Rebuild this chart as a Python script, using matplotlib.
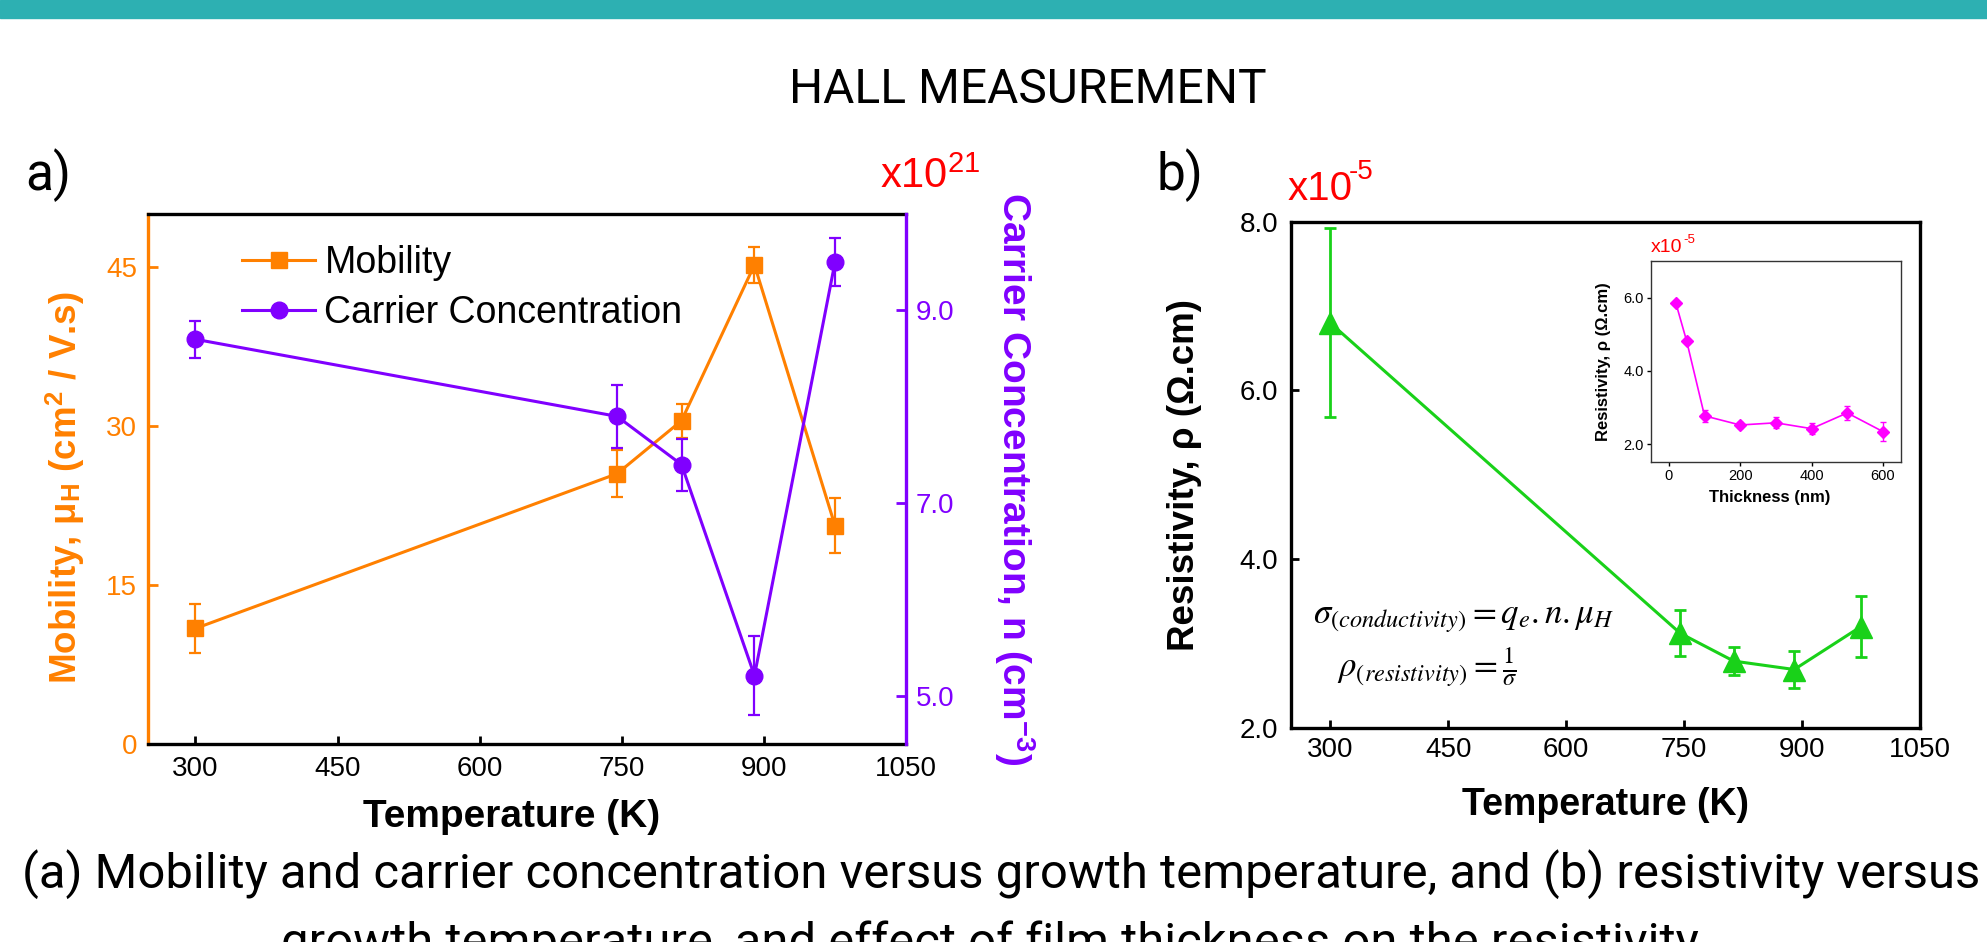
import matplotlib.pyplot as plt
from matplotlib.patches import Rectangle
from matplotlib.lines import Line2D

plt.rcParams['font.family'] = ['Liberation Sans', 'DejaVu Sans']
plt.rcParams['mathtext.fontset'] = 'stix'

ORANGE = '#FF8000'
PURPLE = '#8000FF'
GREEN = '#19D119'
MAGENTA = '#FF00FF'
RED = '#FF0000'
TEAL = '#2DB0B2'

W, H = 1987, 942

# growth temperature series (K)
temp = [300, 745, 813, 890, 975]
mobility = [10.9, 25.5, 30.5, 45.2, 20.6]          # cm2/V.s
mobility_err = [2.3, 2.2, 1.6, 1.7, 2.6]
carrier = [8.70, 7.90, 7.40, 5.21, 9.50]           # x1e21 cm-3
carrier_err = [0.19, 0.33, 0.27, 0.41, 0.25]
resistivity = [6.80, 3.12, 2.79, 2.69, 3.20]       # x1e-5 ohm.cm
resistivity_err = [1.12, 0.27, 0.17, 0.22, 0.36]

# film thickness series (inset)
thickness = [20, 50, 100, 200, 300, 400, 500, 600]
res_thick = [5.84, 4.81, 2.77, 2.52, 2.58, 2.42, 2.85, 2.34]
res_thick_err = [0.05, 0.05, 0.16, 0.08, 0.15, 0.15, 0.20, 0.26]

temp_ticks = [300, 450, 600, 750, 900, 1050]
mob_ticks = [0, 15, 30, 45]
carrier_ticks = [5.0, 7.0, 9.0]
res_ticks = [2.0, 4.0, 6.0, 8.0]
thick_ticks = [0, 200, 400, 600]
res_thick_ticks = [2.0, 4.0, 6.0]


def px_text(x, y, s, **kw):
    # place text by pixel position measured from the top-left corner
    return fig.text(x / W, 1 - y / H, s, **kw)


fig = plt.figure(figsize=(19.87, 9.42), dpi=100)

# header band and headings
fig.patches.append(Rectangle((0, 1 - 18 / H), 1, 18 / H, transform=fig.transFigure,
                             color=TEAL, zorder=0))
px_text(1028, 103, 'HALL MEASUREMENT', family='Roboto', fontsize=34.5,
        ha='center', va='baseline')
px_text(25, 190, 'a)', family='Roboto', fontsize=37, va='baseline')
px_text(1157, 190, 'b)', family='Roboto', fontsize=37, va='baseline')

caption1 = ('(a) Mobility and carrier concentration versus growth temperature, '
            'and (b) resistivity versus')
caption2 = 'growth temperature, and effect of film thickness on the resistivity'
px_text(1001, 888, caption1, family='Roboto', fontsize=35.3, ha='center', va='baseline')
px_text(990, 957, caption2, family='Roboto', fontsize=35.3, ha='center', va='baseline')

# ---- (a) mobility + carrier concentration ----
ax1 = fig.add_axes([0.0745, 0.2102, 0.3815, 0.5626])
ax1r = ax1.twinx()

ax1.errorbar(temp, mobility, yerr=mobility_err, fmt='none', ecolor=ORANGE,
             elinewidth=1.6, capsize=4.5, capthick=1.6)
ax1.plot(temp, mobility, color=ORANGE, lw=2.2, marker='s', ms=11.5)
ax1r.errorbar(temp, carrier, yerr=carrier_err, fmt='none', ecolor=PURPLE,
              elinewidth=1.6, capsize=4.5, capthick=1.6)
ax1r.plot(temp, carrier, color=PURPLE, lw=2.2, marker='o', ms=12)

ax1.set_xlim(250, 1050)
ax1.set_ylim(0, 50)
ax1r.set_ylim(4.5, 10.0)
ax1.set_xticks(temp_ticks)
ax1.set_yticks(mob_ticks)
ax1r.set_yticks(carrier_ticks)
ax1r.set_yticklabels(['%.1f' % v for v in carrier_ticks])

ax1.tick_params(axis='x', direction='in', length=6, width=2, labelsize=20, pad=9)
ax1.tick_params(axis='y', direction='in', length=7, width=2, colors=ORANGE,
                labelsize=20, pad=8)
ax1r.tick_params(axis='y', direction='in', length=7, width=2, colors=PURPLE,
                 labelsize=20, pad=7)

for s in ['top', 'bottom']:
    ax1.spines[s].set_linewidth(2.4)
ax1.spines['left'].set_color(ORANGE)
ax1.spines['left'].set_linewidth(2.4)
ax1.spines['right'].set_visible(False)
for s in ['left', 'top', 'bottom']:
    ax1r.spines[s].set_visible(False)
ax1r.spines['right'].set_color(PURPLE)
ax1r.spines['right'].set_linewidth(2.4)

ax1.set_xlabel('Temperature (K)', fontsize=28, fontweight='bold')
ax1.xaxis.set_label_coords(0.480, -0.137)
ax1.xaxis.label.set_va('center')
ax1.set_ylabel(r'Mobility, μ$_\mathregular{H}$ (cm$^\mathregular{2}$ / V.s)',
               fontsize=26.5, fontweight='bold', color=ORANGE)
ax1.yaxis.set_label_coords(-0.110, 0.483)
ax1.yaxis.label.set_va('center')
ax1r.set_ylabel(r'Carrier Concentration, n (cm$^\mathregular{-3}$)', fontsize=28,
                fontweight='bold', color=PURPLE, rotation=-90)
ax1r.yaxis.set_label_coords(1.1425, 0.5)
ax1r.yaxis.label.set_va('center')

handles = [Line2D([], [], color=ORANGE, lw=2.2, marker='s', ms=11.5),
           Line2D([], [], color=PURPLE, lw=2.2, marker='o', ms=12)]
fig.legend(handles, ['Mobility', 'Carrier Concentration'], loc='center left',
           bbox_to_anchor=(242 / W, 1 - 288 / H), frameon=False,
           fontsize=27, handlelength=1.95, handletextpad=0.25, labelspacing=0.36,
           borderpad=0, borderaxespad=0)

px_text(880, 188, r'x10$^{\mathregular{21}}$', color=RED, fontsize=30, va='baseline')

# ---- (b) resistivity vs temperature ----
ax2 = fig.add_axes([0.6497, 0.2275, 0.3166, 0.5371])
ax2.errorbar(temp, resistivity, yerr=resistivity_err, fmt='none', ecolor=GREEN,
             elinewidth=2, capsize=4.5, capthick=2)
ax2.plot(temp, resistivity, color=GREEN, lw=2.2, marker='^', ms=16)

ax2.set_xlim(250, 1050)
ax2.set_ylim(2.0, 8.0)
ax2.set_xticks(temp_ticks)
ax2.set_yticks(res_ticks)
ax2.set_yticklabels(['%.1f' % v for v in res_ticks])
ax2.tick_params(axis='x', direction='in', length=6, width=2, labelsize=20, pad=7)
ax2.tick_params(axis='y', direction='in', length=6, width=2, labelsize=20, pad=9)
for s in ax2.spines.values():
    s.set_linewidth(2.4)

ax2.set_xlabel('Temperature (K)', fontsize=27, fontweight='bold')
ax2.xaxis.set_label_coords(0.5, -0.153)
ax2.xaxis.label.set_va('center')
ax2.set_ylabel('Resistivity, ρ (Ω.cm)', fontsize=26.5, fontweight='bold')
ax2.yaxis.set_label_coords(-0.1685, 0.5)
ax2.yaxis.label.set_va('center')

ax2.text(0.035, 0.206, r'$\sigma_{(conductivity)} = q_e.n.\mu_H$', fontsize=25,
         transform=ax2.transAxes, va='baseline')
ax2.text(0.073, 0.100, r'$\rho_{(resistivity)} = \frac{1}{\sigma}$', fontsize=25,
         transform=ax2.transAxes, va='baseline')

px_text(1288, 200, 'x10', color=RED, fontsize=29, va='baseline')
px_text(1349, 179, '-5', color=RED, fontsize=20, va='baseline')

# inset: resistivity vs film thickness
axin = fig.add_axes([0.8309, 0.5092, 0.1257, 0.2137])
axin.errorbar(thickness, res_thick, yerr=res_thick_err, fmt='none', ecolor=MAGENTA,
              elinewidth=1, capsize=2, capthick=1)
axin.plot(thickness, res_thick, color=MAGENTA, lw=1.2, marker='D', ms=6)
axin.set_xlim(-50, 650)
axin.set_ylim(1.5, 7.0)
axin.set_xticks(thick_ticks)
axin.set_yticks(res_thick_ticks)
axin.set_yticklabels(['%.1f' % v for v in res_thick_ticks])
axin.tick_params(direction='out', length=3, width=1, labelsize=10.5, pad=2)
for s in axin.spines.values():
    s.set_color('#333333')
    s.set_linewidth(1.0)
axin.set_xlabel('Thickness (nm)', fontsize=12, fontweight='bold')
axin.xaxis.set_label_coords(0.477, -0.177)
axin.xaxis.label.set_va('center')
axin.set_ylabel('Resistivity, ρ (Ω.cm)', fontsize=12, fontweight='bold')
axin.yaxis.set_label_coords(-0.192, 0.5)
axin.yaxis.label.set_va('center')
px_text(1651, 251.7, 'x10', color=RED, fontsize=14, va='baseline')
px_text(1683, 243, '-5', color=RED, fontsize=9.5, va='baseline')

fig.savefig('out.png', dpi=100)
